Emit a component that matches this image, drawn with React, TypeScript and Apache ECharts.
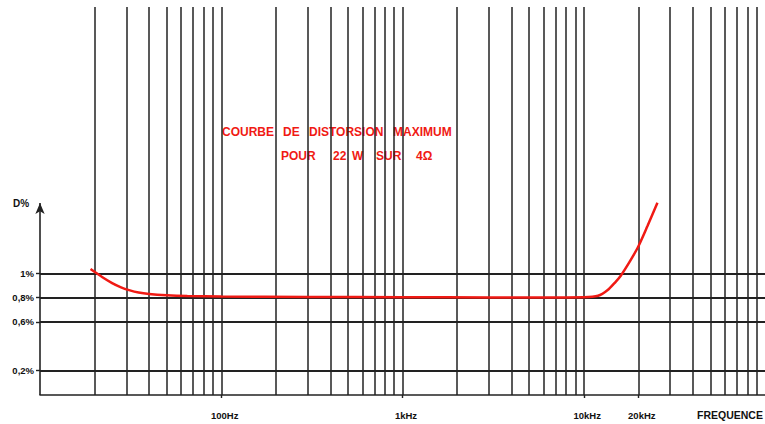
import React, { useEffect, useRef } from 'react';
import * as echarts from 'echarts';

// Distortion curve
const FREQ_HZ = [19, 22, 25, 28, 31, 35, 40, 50, 65, 100, 300, 1000, 3000, 8000, 10000, 12000, 13500, 15000, 16000, 18000, 20000, 22500, 25500];
const DIST_PCT = [1.035, 0.97, 0.92, 0.885, 0.862, 0.842, 0.83, 0.82, 0.814, 0.81, 0.806, 0.803, 0.802, 0.802, 0.803, 0.815, 0.86, 0.93, 0.98, 1.1, 1.22, 1.39, 1.58];

// Log grid
const DECADES = [10, 100, 1000, 10000];
const STEPS = [1, 2, 3, 4, 5, 6, 7, 8, 9];
const H_LINES = [0.2, 0.6, 0.8, 1];
const Y_LABELS = ['0,2%', '0,6%', '0,8%', '1%'];
const X_LABEL_VALUES = [100, 1000, 10000, 20000];
const X_LABELS = ['100Hz', '1kHz', '10kHz', '20kHz'];

const X_MIN = 10;
const X_MAX = 100000;
const Y_MAX = 3.188;
const AXIS_TOP = 1.578;

const TITLE_LINE1 = ['COURBE', 'DE', 'DISTORSION', 'MAXIMUM'];
const TITLE_LINE2 = ['POUR', '22', 'W', 'SUR', '4Ω'];
const TITLE1_X = [222, 283, 309, 393];
const TITLE2_X = [281, 333, 352, 376, 416];

const FONT = '"Liberation Sans", Arial, sans-serif';
const RED = '#f01a14';
const INK = '#222';

export default function App() {
  const ref = useRef<HTMLDivElement>(null);
  useEffect(() => {
    if (!ref.current) return;
    const chart = echarts.init(ref.current, null, { renderer: 'svg' });

    const vLines: any[] = [];
    DECADES.forEach((d) => {
      STEPS.forEach((s) => {
        const f = d * s;
        if (f <= X_MIN) return;
        vLines.push([{ coord: [f, 0] }, { coord: [f, Y_MAX] }]);
      });
    });
    const hLines = H_LINES.map((v) => [
      { coord: [X_MIN, v], lineStyle: { width: 2, color: INK } },
      { coord: [X_MAX, v] },
    ]);

    const matchIdx = (arr: number[], v: number) =>
      arr.findIndex((a) => Math.abs(a - v) < Math.abs(a) * 1e-6 + 1e-9);

    const graphics: any[] = [
      { type: 'text', x: 13, y: 203, style: { text: 'D%', font: `bold 10px ${FONT}`, fill: '#111', verticalAlign: 'middle' } },
      { type: 'text', x: 697, y: 415, style: { text: 'FREQUENCE', font: `bold 10.5px ${FONT}`, fill: '#111', verticalAlign: 'middle' } },
    ];
    TITLE_LINE1.forEach((w, i) =>
      graphics.push({ type: 'text', x: TITLE1_X[i], y: 132, style: { text: w, font: `bold 12px ${FONT}`, fill: RED, verticalAlign: 'middle' } })
    );
    TITLE_LINE2.forEach((w, i) =>
      graphics.push({ type: 'text', x: TITLE2_X[i], y: 156, style: { text: w, font: `bold 12px ${FONT}`, fill: RED, verticalAlign: 'middle' } })
    );

    chart.setOption({
      animation: false,
      backgroundColor: '#fff',
      grid: { left: 40, top: 7, width: 728, bottom: 29, containLabel: false },
      xAxis: {
        type: 'log',
        logBase: 10,
        min: X_MIN,
        max: X_MAX,
        axisLine: { show: true, lineStyle: { color: INK, width: 1.6 } },
        axisTick: { show: true, customValues: X_LABEL_VALUES, length: 3, lineStyle: { color: INK, width: 1.4 } },
        axisLabel: {
          customValues: X_LABEL_VALUES,
          formatter: (v: number) => {
            const i = matchIdx(X_LABEL_VALUES, v);
            return i >= 0 ? X_LABELS[i] : '';
          },
          fontSize: 9.5,
          fontWeight: 'bold',
          fontFamily: FONT,
          color: '#111',
          margin: 15,
          padding: [0, 0, 0, 7],
        },
        splitLine: { show: false },
      },
      yAxis: {
        type: 'value',
        min: 0,
        max: Y_MAX,
        axisLine: { show: false },
        axisTick: { show: true, customValues: H_LINES, length: 4, lineStyle: { color: INK, width: 1.4 } },
        axisLabel: {
          customValues: H_LINES,
          formatter: (v: number) => {
            const i = matchIdx(H_LINES, v);
            return i >= 0 ? Y_LABELS[i] : '';
          },
          fontSize: 9.5,
          fontWeight: 'bold',
          fontFamily: FONT,
          color: '#111',
          margin: 6,
        },
        splitLine: { show: false },
      },
      graphic: graphics,
      series: [
        {
          type: 'line',
          data: [],
          silent: true,
          markLine: {
            silent: true,
            symbol: ['none', 'none'],
            label: { show: false },
            lineStyle: { color: INK, width: 1.5, type: 'solid' },
            emphasis: { disabled: true },
            data: [...vLines, ...hLines],
          },
        },
        {
          type: 'line',
          data: [],
          silent: true,
          markLine: {
            silent: true,
            symbol: ['none', 'arrow'],
            symbolSize: [7, 11],
            label: { show: false },
            lineStyle: { color: INK, width: 1.6, type: 'solid' },
            emphasis: { disabled: true },
            data: [[{ coord: [X_MIN, 0] }, { coord: [X_MIN, AXIS_TOP] }]],
          },
        },
        {
          type: 'line',
          data: FREQ_HZ.map((f, i) => [f, DIST_PCT[i]]),
          smooth: 0.3,
          showSymbol: false,
          symbol: 'none',
          z: 10,
          lineStyle: { color: RED, width: 2.5 },
        },
      ],
    });
    return () => chart.dispose();
  }, []);
  return <div ref={ref} style={{ position: 'absolute', left: 0, top: 0, width: 765, height: 424 }} />;
}
